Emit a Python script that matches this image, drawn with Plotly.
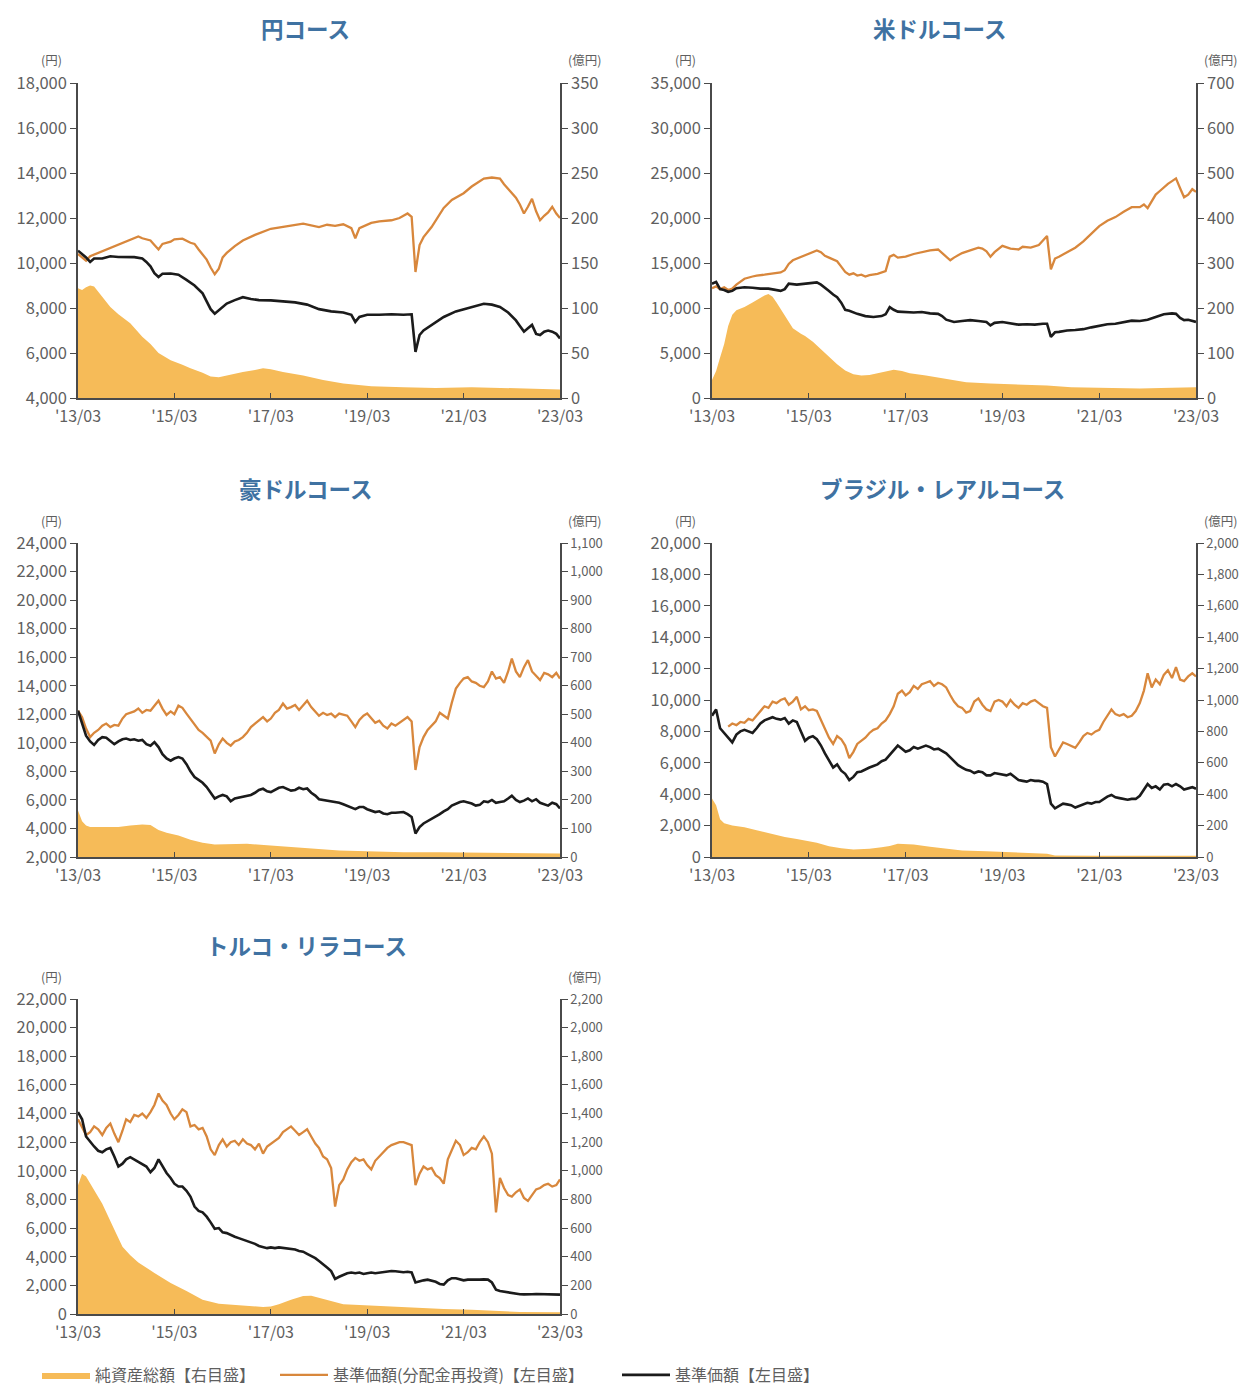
import pandas as pd
import plotly.graph_objects as go

# ---------------------------------------------------------------------------
# Data: month offsets counted from 2013/03, values read per course.
#   *_RE  : 基準価額(分配金再投資)  [円, left axis]
#   *_NAV : 基準価額               [円, left axis]
#   *_AUM : 純資産総額             [億円, right axis]
# ---------------------------------------------------------------------------
FULL_MONTHS = list(range(121))

# 円コース
YEN_RE_M = [0, 1, 2, 3, 5, 7, 9, 11, 13, 15, 16, 18, 19, 20, 21, 23, 24, 26, 28, 29,
            30, 31, 32, 33, 34, 35, 36, 37, 39, 41, 44, 48, 52, 56, 60, 62, 64, 66, 68, 69,
            70, 71, 73, 75, 78, 80, 82, 83, 84, 85, 86, 88, 91, 93, 96, 98, 101, 103, 105, 106,
            107, 109, 110, 111, 112, 113, 114, 115, 116, 117, 118, 119, 120]
YEN_RE_V = [10400, 10250, 10100, 10300, 10450, 10600, 10750, 10900, 11050, 11180,
            11100, 11000, 10800, 10600, 10850, 10950, 11050, 11080, 10900, 10850,
            10600, 10400, 10150, 9800, 9500, 9750, 10250, 10450, 10750, 11000,
            11250, 11520, 11650, 11750, 11600, 11700, 11650, 11720, 11550, 11100,
            11550, 11620, 11780, 11850, 11900, 12000, 12200, 12050, 9600, 10800,
            11150, 11600, 12450, 12800, 13100, 13400, 13750, 13800, 13750, 13500,
            13300, 12900, 12600, 12200, 12500, 12850, 12300, 11900, 12100, 12250,
            12500, 12200, 12000]
YEN_NAV_M = [0, 1, 2, 3, 4, 6, 8, 10, 12, 14, 16, 17, 18, 19, 20, 21, 23, 25, 27, 29,
             31, 32, 33, 34, 35, 37, 39, 41, 43, 45, 48, 51, 54, 57, 60, 63, 66, 68, 69, 70,
             72, 75, 78, 81, 83, 84, 85, 86, 88, 91, 94, 96, 99, 101, 103, 105, 107, 109, 110, 111,
             112, 113, 114, 115, 116, 117, 118, 119, 120]
YEN_NAV_V = [10550, 10400, 10250, 10050, 10200, 10200, 10300, 10270, 10280, 10260,
             10200, 10050, 9850, 9550, 9380, 9520, 9530, 9480, 9250, 9000,
             8650, 8300, 7950, 7750, 7900, 8200, 8350, 8480, 8400, 8350,
             8340, 8300, 8250, 8150, 7950, 7850, 7800, 7700, 7380, 7600,
             7700, 7700, 7720, 7700, 7720, 6050, 6800, 7000, 7250, 7600,
             7850, 7950, 8100, 8190, 8150, 8050, 7800, 7450, 7200, 6950,
             7100, 7250, 6850, 6800, 6950, 7000, 6950, 6850, 6650]
YEN_AUM_M = [0, 1, 2, 3, 4, 5, 6, 8, 10, 13, 16, 18, 20, 23, 26, 28, 31, 33, 35, 37,
             41, 44, 46, 48, 51, 56, 61, 66, 73, 81, 89, 98, 106, 114, 120]
YEN_AUM_V = [122, 120, 123, 125, 124, 118, 112, 101, 93, 83, 68, 60, 50, 42, 37, 33, 28, 24, 23, 25,
             29, 31, 33, 32, 29, 25, 20, 16, 13, 12, 11, 12, 11, 9.5, 9.5]

# 米ドルコース
USD_RE_M = [0, 1, 2, 3, 4, 5, 6, 8, 10, 11, 13, 15, 17, 18, 19, 20, 22, 24, 26, 27,
            28, 29, 30, 31, 32, 33, 34, 35, 36, 37, 38, 39, 41, 43, 44, 45, 46, 48, 50, 52,
            54, 56, 57, 58, 59, 60, 62, 64, 66, 67, 68, 69, 70, 72, 74, 76, 77, 79, 81, 83,
            84, 85, 86, 88, 90, 92, 94, 96, 98, 100, 102, 104, 106, 107, 108, 110, 111, 112, 113, 114,
            115, 116, 117, 118, 119, 120]
USD_RE_V = [12200, 12400, 12100, 12300, 12000, 12150, 12600, 13250, 13500, 13600,
            13700, 13800, 13950, 14200, 14900, 15300, 15700, 16050, 16400, 16200,
            15800, 15600, 15350, 15200, 14600, 14000, 13700, 13850, 13600, 13700,
            13500, 13650, 13800, 14100, 15700, 15900, 15600, 15700, 16000, 16200,
            16400, 16500, 16100, 15700, 15300, 15600, 16100, 16400, 16700, 16600,
            16300, 15700, 16200, 16900, 16600, 16500, 16800, 16700, 17000, 18000,
            14300, 15500, 15700, 16200, 16700, 17400, 18300, 19100, 19700, 20100,
            20700, 21200, 21200, 21500, 21100, 22600, 23000, 23400, 23800, 24100,
            24400, 23300, 22300, 22600, 23200, 22900]
USD_NAV_M = [0, 1, 2, 3, 4, 5, 6, 8, 10, 12, 14, 16, 17, 18, 19, 21, 23, 25, 26, 27,
             28, 29, 30, 31, 32, 33, 34, 35, 36, 38, 40, 42, 43, 44, 45, 46, 48, 50, 52, 54,
             56, 57, 58, 60, 62, 64, 66, 68, 69, 70, 72, 74, 76, 78, 80, 82, 83, 84, 85, 86,
             88, 90, 92, 94, 96, 98, 100, 102, 104, 106, 108, 110, 112, 114, 115, 116, 117, 118, 119, 120]
USD_NAV_V = [12700, 12900, 12100, 12000, 11800, 11900, 12200, 12300, 12250, 12150,
             12150, 11950, 11900, 12100, 12700, 12600, 12700, 12750, 12850, 12600,
             12200, 11900, 11500, 11200, 10600, 9800, 9700, 9500, 9350, 9100,
             9000, 9100, 9300, 10100, 9800, 9600, 9550, 9500, 9560, 9400,
             9350, 9100, 8700, 8450, 8550, 8650, 8550, 8450, 8070, 8350,
             8450, 8300, 8150, 8200, 8150, 8250, 8250, 6800, 7300, 7350,
             7500, 7550, 7650, 7850, 8050, 8200, 8250, 8400, 8600, 8550,
             8700, 9000, 9300, 9400, 9350, 8900, 8650, 8700, 8600, 8450]
USD_AUM_M = [0, 1, 2, 3, 4, 5, 6, 8, 10, 12, 13, 14, 15, 16, 17, 18, 20, 22, 23, 25,
             27, 29, 31, 33, 35, 37, 39, 41, 43, 45, 47, 49, 53, 58, 63, 69, 77, 83, 89, 97,
             106, 114, 120]
USD_AUM_V = [40, 60, 90, 120, 160, 185, 195, 202, 212, 222, 228, 231, 225, 212, 198, 182, 155, 143, 138, 125,
             108, 90, 75, 61, 53, 50, 51, 55, 59, 63, 60, 55, 50, 43, 35, 32, 30, 28, 24, 22,
             21, 23, 24]

# 豪ドルコース
AUD_RE_M = FULL_MONTHS
AUD_RE_V = [12250, 11800, 11000, 10400, 10700, 10900, 11200, 11350, 11100, 11250,
            11200, 11700, 12000, 12100, 12200, 12400, 12100, 12300, 12250, 12600,
            12950, 12400, 11950, 12200, 12000, 12600, 12450, 12050, 11700, 11300,
            10900, 10700, 10400, 10150, 9250, 9900, 10300, 10000, 9800, 10100,
            10200, 10400, 10700, 11100, 11350, 11600, 11800, 11500, 11700, 12100,
            12300, 12750, 12400, 12500, 12650, 12300, 12600, 12950, 12500, 12200,
            11900, 12100, 11950, 12050, 11800, 12050, 11950, 11900, 11500, 11100,
            11600, 11900, 12050, 11700, 11400, 11550, 11200, 11000, 11350, 11200,
            11400, 11600, 11800, 11500, 8100, 9700, 10400, 10900, 11200, 11500,
            12100, 11900, 11700, 12800, 13800, 14200, 14500, 14600, 14300, 14200,
            14000, 13900, 14300, 15000, 14500, 14600, 14200, 15000, 15900, 15000,
            14600, 15300, 15800, 15000, 14700, 14400, 14900, 14800, 14600, 14900,
            14500]
AUD_NAV_M = FULL_MONTHS
AUD_NAV_V = [12250, 11400, 10500, 10100, 9850, 10200, 10400, 10350, 10100, 9900,
             10100, 10250, 10300, 10200, 10250, 10150, 10200, 9900, 9800, 10050,
             9700, 9200, 8900, 8750, 8900, 9000, 8900, 8500, 8000, 7600,
             7400, 7200, 6900, 6500, 6100, 6250, 6350, 6250, 5900, 6100,
             6150, 6200, 6300, 6350, 6500, 6700, 6780, 6600, 6550, 6700,
             6850, 6900, 6800, 6650, 6700, 6850, 6750, 6800, 6500, 6300,
             6050, 6000, 5950, 5900, 5850, 5800, 5700, 5600, 5450, 5350,
             5500, 5500, 5350, 5250, 5150, 5200, 5050, 5000, 5100, 5100,
             5100, 5150, 5000, 4800, 3650, 4100, 4350, 4500, 4700, 4800,
             5000, 5200, 5350, 5600, 5750, 5850, 5900, 5850, 5750, 5600,
             5650, 5900, 5850, 6000, 5800, 5850, 5900, 6100, 6300, 6000,
             5850, 5950, 6100, 5900, 6050, 5800, 5700, 5600, 5800, 5700,
             5400]
AUD_AUM_M = [0, 1, 2, 3, 6, 10, 13, 16, 18, 20, 22, 25, 28, 31, 34, 38, 42, 47, 52, 56,
             60, 65, 72, 81, 90, 100, 108, 120]
AUD_AUM_V = [163, 125, 110, 105, 105, 105, 110, 114, 112, 95, 85, 75, 60, 50, 44, 45, 46, 41, 36, 32,
             28, 23, 20, 17, 17, 16, 14, 12]

# ブラジル・レアルコース
BRL_RE_M = list(range(4, 121))
BRL_RE_V = [8300, 8500, 8400, 8600, 8550, 8800,
            8700, 9000, 9300, 9600, 9500, 9900, 9800, 10000, 10100, 9700,
            9900, 10200, 9400, 9600, 9350, 9400, 9300, 8700, 8200, 7600,
            7200, 7700, 7500, 7100, 6300, 6700, 7200, 7400, 7600, 7900,
            8100, 8200, 8500, 8700, 9100, 9600, 10400, 10600, 10300, 10500,
            10900, 10700, 11000, 11100, 11200, 10900, 11100, 11000, 10800, 10300,
            9900, 9600, 9500, 9200, 9300, 9900, 10100, 9700, 9400, 9300,
            9900, 10000, 9900, 9600, 10000, 9700, 9500, 9800, 9700, 9900,
            10000, 9800, 9600, 9500, 7000, 6400, 6800, 7300, 7200, 7100,
            6950, 7300, 7700, 7900, 7800, 8000, 8100, 8600, 9000, 9400,
            9100, 9000, 9100, 8900, 9000, 9300, 9800, 10600, 11700, 10800,
            11300, 11000, 11600, 11900, 11400, 12100, 11300, 11200, 11500, 11700,
            11500]
BRL_NAV_M = FULL_MONTHS
BRL_NAV_V = [9000, 9400, 8200, 7900, 7600, 7300, 7800, 8000, 8100, 8000,
             7900, 8200, 8500, 8700, 8800, 8900, 8800, 8750, 8850, 8500,
             8700, 8600, 8000, 7400, 7600, 7700, 7500, 7100, 6600, 6100,
             5700, 5900, 5500, 5300, 4900, 5100, 5400, 5450, 5600, 5700,
             5800, 5900, 6100, 6200, 6500, 6800, 7100, 6900, 6700, 6800,
             7000, 6900, 7000, 7100, 7000, 6850, 6900, 6750, 6600, 6350,
             6100, 5850, 5700, 5550, 5500, 5350, 5450, 5400, 5200, 5200,
             5350, 5300, 5250, 5200, 5300, 5100, 4900, 4850, 4800, 4900,
             4850, 4850, 4800, 4650, 3400, 3100, 3250, 3400, 3350, 3300,
             3150, 3250, 3400, 3450, 3400, 3500, 3500, 3700, 3850, 3950,
             3800, 3750, 3700, 3650, 3700, 3700, 3900, 4300, 4650, 4400,
             4500, 4300, 4600, 4650, 4500, 4650, 4500, 4300, 4400, 4450,
             4350]
BRL_AUM_M = [0, 1, 2, 3, 5, 8, 11, 14, 18, 21, 23, 26, 29, 32, 35, 39, 42, 44, 46, 48,
             50, 54, 58, 62, 68, 74, 81, 83, 85, 95, 120]
BRL_AUM_V = [372, 330, 240, 215, 200, 190, 170, 152, 127, 115, 106, 90, 68, 55, 47, 52, 62, 70, 85, 84,
             80, 66, 52, 42, 36, 30, 25, 21, 10, 8, 8]

# トルコ・リラコース
TRY_RE_M = FULL_MONTHS
TRY_RE_V = [13600, 13000, 12500, 12700, 13100, 12900, 12500, 13000, 13300, 12600,
            12000, 12800, 13600, 13400, 13900, 13800, 14000, 13700, 14100, 14600,
            15400, 14900, 14600, 14000, 13600, 13900, 14300, 14100, 13100, 13200,
            12900, 13000, 12400, 11500, 11100, 11800, 12200, 11700, 12000, 12100,
            11800, 12200, 11900, 11800, 11500, 11900, 11200, 11700, 11900, 12100,
            12300, 12700, 12900, 13100, 12800, 12500, 12700, 12900, 12400, 11900,
            11600, 11000, 10800, 10200, 7500, 9000, 9400, 10100, 10600, 10900,
            10700, 10800, 10400, 10100, 10700, 11000, 11300, 11600, 11800, 11900,
            12000, 12000, 11900, 11800, 9000, 9800, 10300, 10100, 10200, 9700,
            9500, 9100, 10800, 11500, 12100, 11800, 11100, 11300, 11600, 11500,
            12000, 12400, 12000, 11200, 7100, 9500, 8800, 8300, 8200, 8500,
            8700, 8100, 7900, 8300, 8700, 8800, 9000, 9100, 8900, 9000,
            9400]
TRY_NAV_M = FULL_MONTHS
TRY_NAV_V = [14100, 13600, 12400, 12000, 11700, 11400, 11300, 11500, 11600, 11000,
             10300, 10500, 10800, 10950, 10800, 10600, 10500, 10300, 9900, 10200,
             10800, 10300, 9850, 9500, 9100, 8900, 8900, 8600, 8200, 7500,
             7200, 7100, 6800, 6400, 5950, 6000, 5700, 5650, 5500, 5400,
             5300, 5200, 5150, 5050, 4900, 4750, 4650, 4600, 4650, 4600,
             4650, 4620, 4600, 4550, 4500, 4400, 4350, 4200, 4050, 3900,
             3700, 3500, 3250, 3000, 2450, 2600, 2750, 2850, 2900, 2850,
             2900, 2800, 2850, 2900, 2850, 2900, 2950, 2980, 3000, 2990,
             2950, 2920, 2950, 2900, 2200, 2300, 2350, 2400, 2350, 2250,
             2100, 2050, 2350, 2500, 2500, 2400, 2350, 2400, 2400, 2350,
             2400, 2420, 2400, 2200, 1700, 1600, 1550, 1500, 1450, 1420,
             1380, 1370, 1350, 1380, 1400, 1390, 1380, 1370, 1380, 1370,
             1350]
TRY_AUM_M = [0, 1, 2, 4, 6, 9, 11, 13, 15, 19, 23, 27, 31, 35, 41, 46, 48, 50, 53, 56,
             58, 61, 64, 66, 70, 74, 81, 85, 91, 98, 104, 110, 120]
TRY_AUM_V = [900, 980, 960, 870, 770, 590, 470, 410, 360, 287, 217, 160, 100, 72, 58, 49, 52, 68, 100, 125,
             128, 105, 80, 68, 63, 58, 49, 40, 35, 30, 21, 14, 12]

TICK_MONTHS = [0, 24, 48, 72, 96, 120]
TICK_TEXT = ["'13/03", "'15/03", "'17/03", "'19/03", "'21/03", "'23/03"]

LEGEND_NAMES = ["純資産総額【右目盛】", "基準価額(分配金再投資)【左目盛】", "基準価額【左目盛】"]

# ---------------------------------------------------------------------------
# Styling
# ---------------------------------------------------------------------------
W, H = 1243, 1385
FONT = "Noto Sans CJK JP"
AREA_COLOR = "#f6bb58"
RE_COLOR = "#d8873c"
NAV_COLOR = "#1b1b1b"
AXIS_COLOR = "#4a4a4a"
TEXT_COLOR = "#5f5f5f"
TITLE_COLOR = "#3f72a2"

START = pd.Timestamp("2013-03-01")


def to_dates(months):
    return [START + pd.DateOffset(months=int(m)) for m in months]


panels = [
    dict(title="円コース", box=(78, 560, 83, 398), left=(4000, 18000, 2000),
         right=(0, 350, 50), rsize=16.5, title_pos=(305, 28),
         re=(YEN_RE_M, YEN_RE_V), nav=(YEN_NAV_M, YEN_NAV_V), aum=(YEN_AUM_M, YEN_AUM_V)),
    dict(title="米ドルコース", box=(712, 1196, 83, 398), left=(0, 35000, 5000),
         right=(0, 700, 100), rsize=16.5, title_pos=(940, 28),
         re=(USD_RE_M, USD_RE_V), nav=(USD_NAV_M, USD_NAV_V), aum=(USD_AUM_M, USD_AUM_V)),
    dict(title="豪ドルコース", box=(78, 560, 543, 857), left=(2000, 24000, 2000),
         right=(0, 1100, 100), rsize=13, title_pos=(305, 488),
         re=(AUD_RE_M, AUD_RE_V), nav=(AUD_NAV_M, AUD_NAV_V), aum=(AUD_AUM_M, AUD_AUM_V)),
    dict(title="ブラジル・レアルコース", box=(712, 1196, 543, 857), left=(0, 20000, 2000),
         right=(0, 2000, 200), rsize=13, title_pos=(942, 488),
         re=(BRL_RE_M, BRL_RE_V), nav=(BRL_NAV_M, BRL_NAV_V), aum=(BRL_AUM_M, BRL_AUM_V)),
    dict(title="トルコ・リラコース", box=(78, 560, 999, 1314), left=(0, 22000, 2000),
         right=(0, 2200, 200), rsize=13, title_pos=(306, 945),
         re=(TRY_RE_M, TRY_RE_V), nav=(TRY_NAV_M, TRY_NAV_V), aum=(TRY_AUM_M, TRY_AUM_V)),
]

fig = go.Figure()
layout = {}
annotations = []

for i, p in enumerate(panels, start=1):
    for key in ("re", "nav", "aum"):
        m, v = p[key]
        if len(m) != len(v):
            raise ValueError(f"{p['title']} {key}: {len(m)} months vs {len(v)} values")

    x_id = "x" if i == 1 else f"x{i}"
    a_num, l_num = 2 * i - 1, 2 * i
    a_id = "y" if a_num == 1 else f"y{a_num}"
    l_id = f"y{l_num}"
    x0, x1, y0, y1 = p["box"]
    first = i == 1

    # 純資産総額 (area, right axis) drawn underneath
    fig.add_trace(go.Scatter(
        x=to_dates(p["aum"][0]), y=p["aum"][1], xaxis=x_id, yaxis=a_id,
        mode="lines", fill="tozeroy", line=dict(width=0, color=AREA_COLOR),
        fillcolor=AREA_COLOR, name=LEGEND_NAMES[0], legend="legend",
        showlegend=first, hoverinfo="skip"))
    # 基準価額(分配金再投資)
    fig.add_trace(go.Scatter(
        x=to_dates(p["re"][0]), y=p["re"][1], xaxis=x_id, yaxis=l_id,
        mode="lines", line=dict(width=2.3, color=RE_COLOR),
        name=LEGEND_NAMES[1], legend="legend2", showlegend=first))
    # 基準価額
    fig.add_trace(go.Scatter(
        x=to_dates(p["nav"][0]), y=p["nav"][1], xaxis=x_id, yaxis=l_id,
        mode="lines", line=dict(width=2.6, color=NAV_COLOR),
        name=LEGEND_NAMES[2], legend="legend3", showlegend=first))

    ydom = [1 - y1 / H, 1 - y0 / H]
    xdom = [x0 / W, x1 / W]
    common = dict(showgrid=False, zeroline=False, showline=True, automargin=False,
                  linecolor=AXIS_COLOR, linewidth=1.5, tickcolor=AXIS_COLOR,
                  tickwidth=1.3, fixedrange=True)

    layout["xaxis" if i == 1 else f"xaxis{i}"] = dict(
        domain=xdom, anchor=a_id, type="date",
        range=[START, START + pd.DateOffset(months=120)],
        tickvals=to_dates(TICK_MONTHS), ticktext=TICK_TEXT,
        ticks="inside", ticklen=5, ticklabelstandoff=3,
        tickfont=dict(family=FONT, size=16, color=TEXT_COLOR), **common)

    rmin, rmax, rstep = p["right"]
    layout["yaxis" if a_num == 1 else f"yaxis{a_num}"] = dict(
        domain=ydom, anchor=x_id, side="right",
        range=[rmin, rmax], tick0=rmin, dtick=rstep, tickformat=",d",
        ticks="outside", ticklen=6,
        tickfont=dict(family=FONT, size=p["rsize"], color=TEXT_COLOR), **common)

    lmin, lmax, lstep = p["left"]
    layout[f"yaxis{l_num}"] = dict(
        domain=ydom, anchor=x_id, overlaying=a_id, side="left",
        range=[lmin, lmax], tick0=lmin, dtick=lstep, tickformat=",d",
        ticks="outside", ticklen=6,
        tickfont=dict(family=FONT, size=16.5, color=TEXT_COLOR), **common)

    tx, ty = p["title_pos"]
    annotations.append(dict(
        text=f"<b>{p['title']}</b>", x=tx / W, y=1 - ty / H, xref="paper", yref="paper",
        xanchor="center", yanchor="middle", showarrow=False,
        font=dict(family=FONT, size=22.5, color=TITLE_COLOR)))
    annotations.append(dict(
        text="(円)", x=(x0 - 27) / W, y=1 - (y0 - 23) / H, xref="paper", yref="paper",
        xanchor="center", yanchor="middle", showarrow=False,
        font=dict(family=FONT, size=12.5, color=TEXT_COLOR)))
    annotations.append(dict(
        text="(億円)", x=(x1 + 24) / W, y=1 - (y0 - 23) / H, xref="paper", yref="paper",
        xanchor="center", yanchor="middle", showarrow=False,
        font=dict(family=FONT, size=12.5, color=TEXT_COLOR)))


def legend_box(left_px):
    return dict(orientation="h", x=left_px / W, y=1 - 1375 / H,
                xanchor="left", yanchor="middle",
                font=dict(family=FONT, size=16, color=TEXT_COLOR),
                bgcolor="rgba(0,0,0,0)", itemwidth=48)


fig.update_layout(
    width=W, height=H,
    margin=dict(l=0, r=0, t=0, b=0, autoexpand=False),
    paper_bgcolor="white", plot_bgcolor="white",
    font=dict(family=FONT, color=TEXT_COLOR),
    annotations=annotations,
    showlegend=True,
    legend=legend_box(37),
    legend2=legend_box(275),
    legend3=legend_box(617),
    hovermode=False,
    **layout,
)

fig.write_html("out.html")
